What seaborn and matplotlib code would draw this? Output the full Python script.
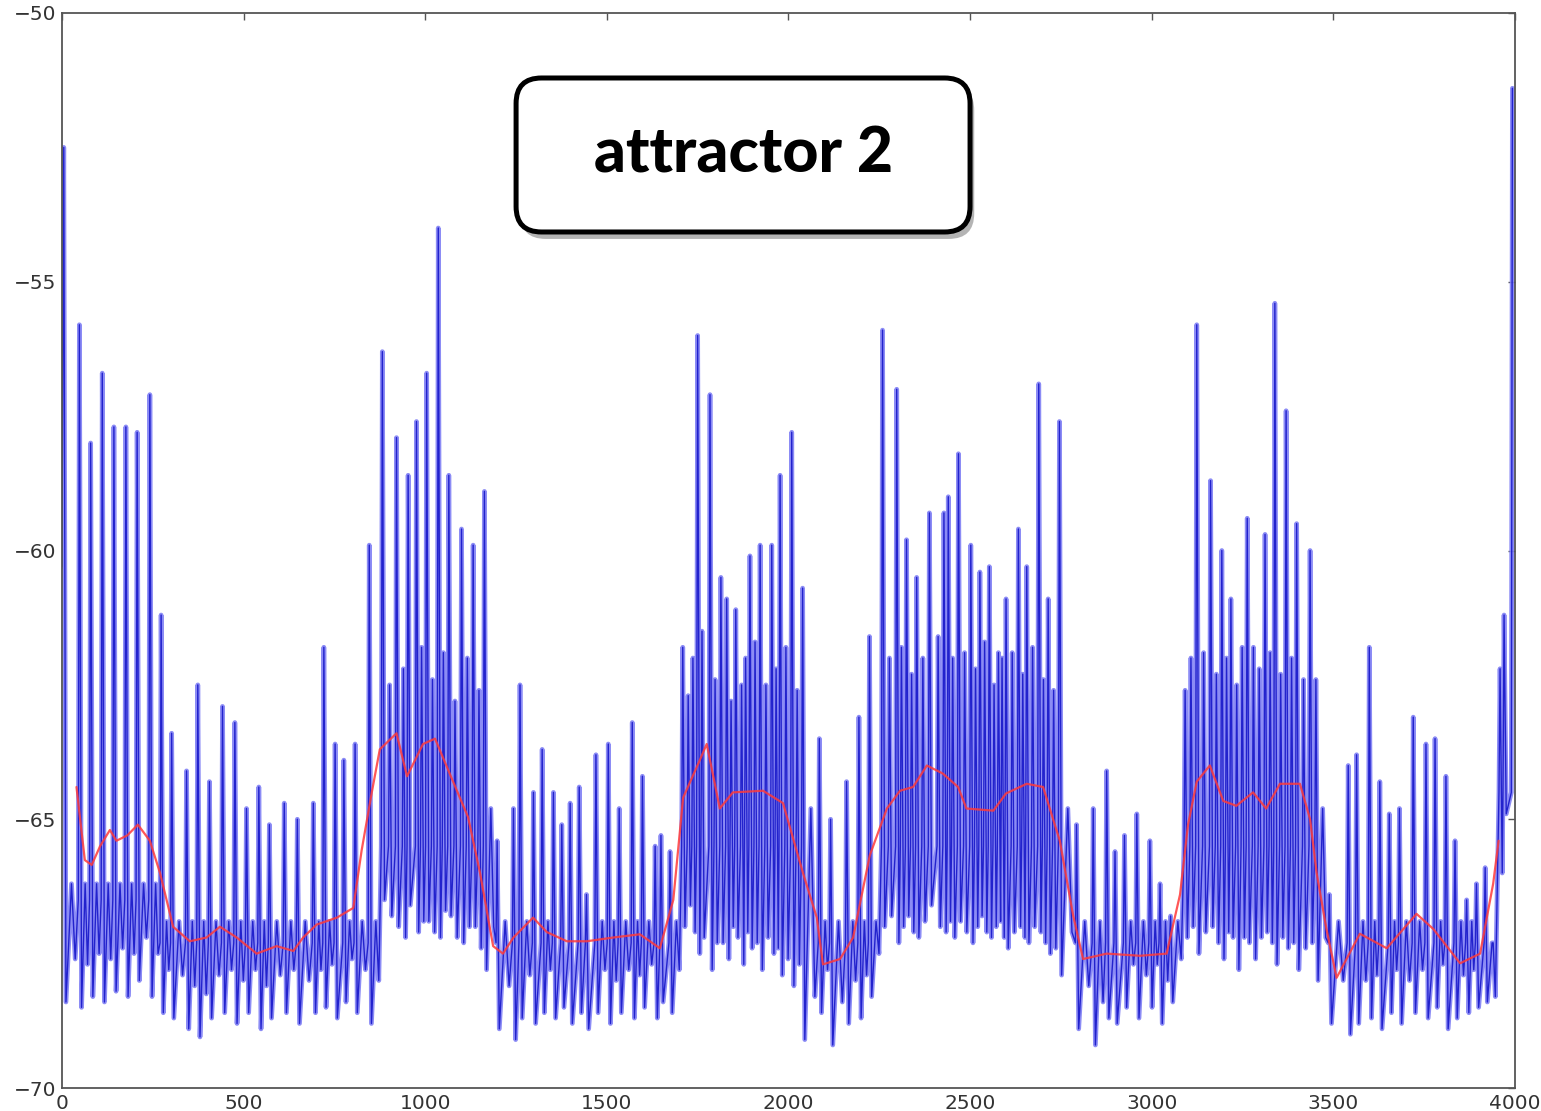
import numpy as np
import pandas as pd
import matplotlib
matplotlib.use("Agg")
import matplotlib.pyplot as plt
import matplotlib.patheffects as pe
from matplotlib.patches import FancyBboxPatch
import seaborn as sns

# ---------------- membrane potential trace ----------------
# spike times, spike peak (mV) and the after-spike minimum (mV)
spike_t = [
    5, 48, 79, 111, 143, 176, 207, 242,
    273, 302, 343, 374, 406, 442, 476, 508, 542, 571, 612, 648, 692, 721, 752, 776, 807, 846,
    882, 902, 921, 940, 953, 976, 990, 1004, 1020, 1036, 1050, 1065, 1082, 1100, 1116, 1132, 1148, 1163,
    1198, 1243, 1261, 1298, 1322, 1353, 1376, 1399, 1424, 1444, 1470, 1504, 1534, 1570, 1598, 1633, 1649, 1674,
    1709, 1724, 1737, 1750, 1762, 1784, 1798, 1814, 1830, 1842, 1855, 1871, 1882, 1894, 1908, 1922, 1938, 1954,
    1966, 1977, 1993, 2009, 2024, 2039,
    2085, 2116, 2160, 2194, 2223,
    2259, 2278, 2298, 2311, 2325, 2339, 2353, 2370, 2388, 2412, 2428, 2440, 2452, 2468, 2485, 2502, 2515, 2527,
    2540, 2553, 2566, 2578, 2588, 2599, 2616, 2633, 2645, 2656, 2672, 2689, 2702, 2715, 2730, 2746,
    2793, 2839, 2876, 2899, 2925, 2959, 2995, 3023, 3052,
    3092, 3108, 3124, 3143, 3162, 3178, 3193, 3206, 3218, 3234, 3249, 3263, 3280, 3296, 3312, 3326, 3339, 3355,
    3370, 3385, 3399, 3418, 3436, 3452,
    3489, 3541, 3564, 3599, 3628, 3654, 3682, 3720, 3755, 3780, 3810, 3835, 3867, 3894, 3918, 3940,
    3959, 3970,
]
spike_peak = [
    -52.5, -55.8, -58.0, -56.7, -57.7, -57.7, -57.8, -57.1,
    -61.2, -63.4, -64.1, -62.5, -64.3, -62.9, -63.2, -64.8, -64.4, -65.1, -64.7, -65.0, -64.7, -61.8, -63.6, -63.9, -63.6, -59.9,
    -56.3, -62.5, -57.9, -62.2, -58.6, -57.6, -61.8, -56.7, -62.4, -54.0, -61.9, -58.6, -62.8, -59.6, -62.0, -59.9, -62.6, -58.9,
    -65.4, -64.8, -62.5, -64.5, -63.7, -64.5, -65.1, -64.7, -64.4, -66.4, -63.8, -63.6, -64.8, -63.2, -64.2, -65.5, -65.3, -65.6,
    -61.8, -62.7, -62.0, -56.0, -61.5, -57.1, -62.4, -60.5, -60.9, -62.8, -61.1, -62.5, -62.0, -60.1, -61.7, -59.9, -62.5, -59.9,
    -62.2, -58.6, -61.8, -57.8, -62.6, -60.7,
    -63.5, -65.0, -64.3, -63.1, -61.6,
    -55.9, -62.0, -57.0, -61.8, -59.8, -62.3, -60.5, -62.0, -59.3, -61.6, -59.3, -59.0, -62.0, -58.2, -61.9, -59.9, -62.2, -60.4,
    -61.7, -60.3, -62.5, -61.9, -62.0, -60.9, -61.9, -59.6, -62.3, -60.3, -61.8, -56.9, -62.4, -60.9, -62.6, -57.6,
    -65.1, -64.8, -64.1, -65.6, -65.3, -64.9, -65.4, -66.2, -66.8,
    -62.6, -62.0, -55.8, -61.9, -58.7, -62.3, -60.0, -62.0, -60.9, -62.5, -61.8, -59.4, -61.8, -62.2, -59.7, -61.9, -55.4, -62.3,
    -57.4, -62.0, -59.5, -62.4, -60.0, -62.4,
    -66.4, -64.0, -63.8, -61.8, -64.3, -64.9, -64.8, -63.1, -63.6, -63.5, -64.2, -65.4, -66.5, -66.2, -65.9, -67.3,
    -62.2, -61.2,
]
spike_trough = [
    -68.4, -68.5, -68.3, -68.4, -68.2, -68.3, -68.0, -68.3,
    -68.6, -68.7, -68.9, -69.05, -68.7, -68.6, -68.8, -68.6, -68.9, -68.7, -68.6, -68.8, -68.6, -68.5, -68.7, -68.4, -68.6, -68.8,
    -66.5, -66.8, -67.0, -67.2, -66.6, -67.1, -66.9, -66.9, -67.1, -67.2, -66.7, -66.8, -67.2, -67.3, -67.0, -67.0, -67.4, -67.8,
    -68.9, -69.1, -68.7, -68.8, -68.6, -68.7, -68.5, -68.8, -68.6, -68.9, -68.6, -68.8, -68.6, -68.7, -68.5, -68.7, -68.4, -68.6,
    -67.0, -66.6, -67.1, -67.5, -67.2, -67.8, -67.3, -67.3, -67.6, -67.0, -67.2, -67.7, -67.1, -67.4, -67.3, -67.8, -67.2, -67.5,
    -67.4, -67.9, -67.6, -68.1, -67.7, -69.1,
    -68.6, -69.2, -68.8, -68.7, -68.3,
    -67.0, -66.8, -67.3, -67.0, -66.8, -67.1, -67.2, -66.9, -66.6, -67.0, -67.1, -66.9, -67.2, -66.9, -67.1, -67.3, -67.0, -66.8,
    -67.1, -67.2, -67.0, -66.9, -67.2, -67.4, -67.1, -67.0, -67.2, -67.3, -67.0, -67.1, -67.3, -67.5, -67.4, -67.9,
    -68.9, -69.2, -68.7, -68.8, -68.5, -68.7, -68.5, -68.8, -68.4,
    -67.2, -67.0, -67.5, -67.1, -67.0, -67.3, -67.6, -67.1, -67.2, -67.8, -67.2, -67.3, -67.6, -67.2, -67.1, -67.3, -67.7, -67.2,
    -67.4, -67.3, -67.8, -67.4, -67.3, -68.0,
    -68.8, -69.0, -68.8, -68.7, -68.9, -68.6, -68.8, -68.6, -68.7, -68.5, -68.9, -68.7, -68.6, -68.5, -68.4, -68.3,
    -66.0, -64.9,
]

# firing states: start time, pre-spike level and subthreshold bump level (mV)
state_start = [0, 260, 865, 1180, 1700, 2060, 2240, 2770, 3080, 3470, 3950]
state_onset = [-66.5, -67.3, -65.5, -67.3, -65.5, -67.3, -65.5, -67.3, -65.5, -67.3, -64.5]
state_bump = [-66.2, -66.9, -64.8, -66.9, -64.8, -66.9, -64.8, -66.9, -64.8, -66.9, -64.0]

# first sample and the final upstroke
trace_start_t = [0]
trace_start_v = [-60.3]
trace_end_t = [3993]
trace_end_v = [-51.4]

# ---------------- running mean (red) ----------------
mean_t = [40, 63, 82, 105, 132, 150, 180, 209, 242, 270, 306, 352, 398, 435, 481, 536, 591, 637, 664, 701,
          757, 802, 825, 853, 875, 921, 950, 994, 1027, 1073, 1118, 1151, 1187, 1214, 1243, 1297, 1335, 1390,
          1445, 1518, 1591, 1646, 1683, 1710, 1756, 1775, 1811, 1847, 1930, 1985, 2040, 2078, 2095, 2142,
          2178, 2224, 2271, 2307, 2343, 2381, 2425, 2467, 2490, 2564, 2599, 2656, 2701, 2747, 2784, 2811,
          2876, 2968, 3041, 3078, 3100, 3124, 3160, 3197, 3233, 3279, 3315, 3353, 3408, 3436, 3454, 3481,
          3509, 3573, 3647, 3729, 3775, 3849, 3904, 3940, 3955]
mean_v = [-64.4, -65.76, -65.85, -65.5, -65.2, -65.4, -65.3, -65.1, -65.4, -66.0, -67.0, -67.27, -67.2,
          -67.0, -67.2, -67.5, -67.36, -67.45, -67.2, -66.96, -66.83, -66.65, -65.58, -64.5, -63.7, -63.4,
          -64.2, -63.6, -63.5, -64.24, -64.96, -66.0, -67.36, -67.5, -67.2, -66.83, -67.1, -67.27, -67.27,
          -67.2, -67.14, -67.4, -66.5, -64.6, -63.9, -63.6, -64.8, -64.5, -64.47, -64.7, -66.0, -66.83,
          -67.7, -67.6, -67.2, -65.67, -64.8, -64.47, -64.4, -64.0, -64.15, -64.4, -64.8, -64.84, -64.52,
          -64.34, -64.4, -65.4, -66.8, -67.6, -67.5, -67.54, -67.5, -66.4, -65.1, -64.3, -64.0, -64.66,
          -64.75, -64.5, -64.8, -64.34, -64.34, -65.0, -66.0, -67.04, -67.95, -67.13, -67.4, -66.76, -67.04,
          -67.68, -67.5, -66.2, -65.4]


def state_of(t):
    return np.searchsorted(state_start, t, side="right") - 1


# assemble the trace as a polyline:
# onset -> peak -> after-spike minimum -> subthreshold bump -> next onset
rise, fall = 3, 6
tt, vv = list(trace_start_t), list(trace_start_v)
n = len(spike_t)
for k in range(n):
    t, p, m = spike_t[k], spike_peak[k], spike_trough[k]
    s = state_of(t)
    if k > 0:
        tt.append(t - rise)
        vv.append(state_onset[s])
    tt.append(t)
    vv.append(p)
    tt.append(t + fall)
    vv.append(m)
    t_next = spike_t[k + 1] if k + 1 < n else trace_end_t[0]
    free = (t_next - rise) - (t + fall)
    if free >= 18:
        tt.append(t + fall + free * 0.45)
        vv.append(state_bump[s])
        tt.append(t + fall + free * 0.75)
        vv.append(m + 0.8)
tt.append(trace_end_t[0] - rise)
vv.append(state_onset[state_of(trace_end_t[0])])
tt += trace_end_t
vv += trace_end_v

trace = pd.DataFrame({"t": tt, "v": vv})
running = pd.DataFrame({"t": mean_t, "v": mean_v})

# ---------------- figure ----------------
sns.set_theme(style="white")
plt.rcParams["font.family"] = ["DejaVu Sans"]

fig = plt.figure(figsize=(15.41, 11.11), dpi=100)
ax = fig.add_axes([0.0402, 0.0207, 0.9429, 0.9676])

sns.lineplot(data=trace, x="t", y="v", sort=False, estimator=None, ax=ax,
             color="#8080f4", linewidth=3.4, alpha=0.9)
sns.lineplot(data=trace, x="t", y="v", sort=False, estimator=None, ax=ax,
             color="#1010c6", linewidth=1.0, alpha=0.85)
sns.lineplot(data=running, x="t", y="v", sort=False, estimator=None, ax=ax,
             color="#ff3a3a", linewidth=1.6, alpha=0.85)

ax.set_xlim(0, 4000)
ax.set_ylim(-70, -50)
ax.set_xticks(np.arange(0, 4001, 500))
ax.set_yticks(np.arange(-70, -49, 5))
ax.set_xlabel("")
ax.set_ylabel("")
for s in ax.spines.values():
    s.set_visible(True)
    s.set_color("#555555")
    s.set_linewidth(1.3)
ax.tick_params(direction="in", length=5, width=1, color="#555555",
               top=True, right=True, labelsize=14.5, labelcolor="#333333")
ax.tick_params(axis="y", pad=4)
ax.tick_params(axis="x", pad=4)

# rounded title box with drop shadow
box = FancyBboxPatch((0.3349, 0.7912), 0.2946, 0.1386,
                     boxstyle="round,pad=0,rounding_size=0.0165",
                     mutation_aspect=1541 / 1111,
                     transform=fig.transFigure, facecolor="white",
                     edgecolor="black", linewidth=3.6, zorder=10)
box.set_path_effects([pe.SimplePatchShadow(offset=(3, -5), shadow_rgbFace="#777777", alpha=0.55),
                      pe.Normal()])
fig.patches.append(box)
fig.text(0.4822, 0.8605, "attractor 2", ha="center", va="center",
         fontsize=45, fontweight="black", family=["Lato", "DejaVu Sans"],
         color="black", zorder=11)

fig.savefig("out.png", dpi=100)
